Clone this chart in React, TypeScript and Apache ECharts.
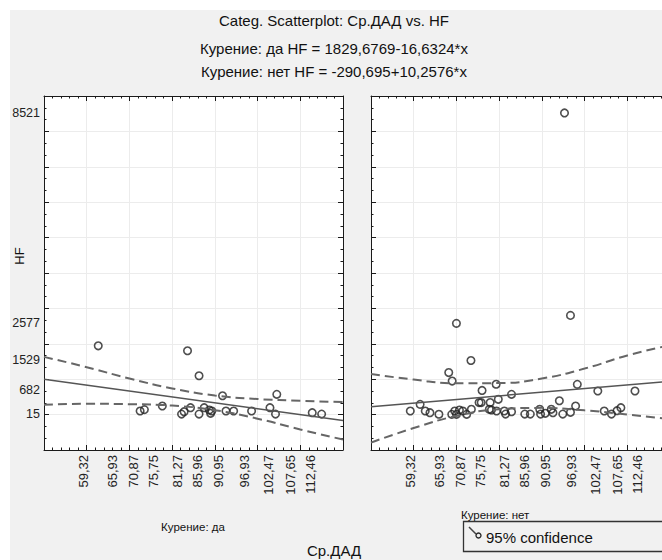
import React, { useEffect, useRef } from "react";
import * as echarts from "echarts";

// Tick labels shown by the original chart (custom values)
const xTickLabels = [59.32, 65.93, 70.87, 75.75, 81.27, 85.96, 90.95, 96.93, 102.47, 107.65, 112.46];
const yTickLabels = [15, 682, 1529, 2577, 8521];

// Курение: да
const smokeYesX = [62.7, 83.6, 86.3, 91.8, 104.5, 77.7, 72.5, 73.5, 82.2, 82.8, 84.3, 86.3, 87.5, 88.7, 89.0, 89.3, 92.6, 94.4, 98.6, 102.9, 104.2, 112.8, 115.0];
const smokeYesY = [1944, 1803, 1098, 533, 573, 243, 102, 141, 15, 82, 195, 15, 195, 130, 37, 102, 102, 102, 102, 195, 15, 54, 15];

// Курение: нет
const smokeNoX = [59.2, 61.5, 62.7, 63.8, 65.9, 68.2, 69.0, 68.9, 69.6, 70.0, 70.0, 70.7, 71.5, 72.4, 73.5, 73.4, 75.3, 75.8, 76.0, 77.7, 77.9, 78.2, 79.3, 79.4, 79.8, 81.2, 81.5, 82.9, 82.9, 86.0, 87.3, 89.5, 89.7, 90.8, 92.2, 92.6, 94.1, 94.9, 95.3, 96.7, 96.7, 97.9, 98.3, 103.1, 104.6, 106.3, 107.6, 108.5, 111.8];
const smokeNoY = [102, 290, 102, 54, 10, 1188, 948, 8, 102, 2577, 8, 130, 102, 8, 150, 1529, 341, 341, 682, 150, 341, 130, 858, 102, 432, 102, 15, 573, 82, 15, 15, 150, 15, 37, 150, 54, 392, 15, 8521, 65, 2802, 243, 855, 666, 102, 15, 110, 195, 666];

// Fitted lines (from the chart's title)
const fitYes = { a: 1829.6769, b: -16.6324 };
const fitNo = { a: -290.695, b: 10.2576 };

// 95% confidence bands
const bandX = [50, 60, 70, 80, 90, 100, 110, 120];
const yesUpper = [1630, 1340, 1020, 740, 540, 440, 390, 355];
const yesLower = [275, 305, 295, 255, 125, -115, -420, -705];
const noUpper = [1150, 990, 885, 890, 1020, 1300, 1670, 1960];
const noLower = [-790, -380, -40, 150, 190, 120, 0, -130];

const X_MIN = 50;
const X_MAX = 120;
const Y_MIN = -1000;
const Y_MAX = 9000;

const FONT = "'Liberation Sans', Arial, sans-serif";
const INK = "#1a1a1a";

function pairs(xs: number[], ys: number[]) {
  return xs.map((x, i) => [x, ys[i]]);
}

function fitLine(f: { a: number; b: number }) {
  return [
    [X_MIN, f.a + f.b * X_MIN],
    [X_MAX, f.a + f.b * X_MAX],
  ];
}

export default function App() {
  const ref = useRef<HTMLDivElement>(null);

  useEffect(() => {
    document.body.style.margin = "0";
    if (!ref.current) return;
    const chart = echarts.init(ref.current, undefined, { renderer: "svg" });

    const tickCommon = {
      axisLine: { show: true, onZero: false, lineStyle: { color: INK, width: 1 } },
      axisTick: { show: true, inside: true, length: 5, lineStyle: { color: INK, width: 1 } },
    };

    const xAxes: any[] = [];
    const yAxes: any[] = [];
    [0, 1].forEach((g) => {
      xAxes.push({
        type: "value",
        gridIndex: g,
        position: "bottom",
        min: X_MIN,
        max: X_MAX,
        interval: 10,
        ...tickCommon,
        minorTick: { show: true, splitNumber: 5, length: 2.5, lineStyle: { color: INK, width: 1 } },
        splitLine: { show: true, lineStyle: { color: "#ececec", width: 1 } },
        axisLabel: {
          show: true,
          customValues: xTickLabels,
          rotate: 90,
          margin: 5,
          fontSize: 13,
          fontFamily: FONT,
          color: "#222",
          formatter: (v: number) => v.toFixed(2).replace(".", ","),
        },
      });
      xAxes.push({
        type: "value",
        gridIndex: g,
        position: "top",
        min: X_MIN,
        max: X_MAX,
        interval: 10,
        ...tickCommon,
        minorTick: { show: true, splitNumber: 5, length: 2.5, lineStyle: { color: INK, width: 1 } },
        splitLine: { show: false },
        axisLabel: { show: false },
      });
      yAxes.push({
        type: "value",
        gridIndex: g,
        position: "left",
        min: Y_MIN,
        max: Y_MAX,
        interval: 1000,
        ...tickCommon,
        minorTick: { show: true, splitNumber: 3, length: 2.5, lineStyle: { color: INK, width: 1 } },
        splitLine: { show: true, lineStyle: { color: "#ececec", width: 1 } },
        axisLabel: {
          show: g === 0,
          customValues: yTickLabels,
          margin: 4,
          fontSize: 12.5,
          fontFamily: FONT,
          color: "#222",
          formatter: (v: number) => String(v),
        },
      });
      yAxes.push({
        type: "value",
        gridIndex: g,
        position: "right",
        min: Y_MIN,
        max: Y_MAX,
        interval: 1000,
        ...tickCommon,
        minorTick: { show: true, splitNumber: 3, length: 2.5, lineStyle: { color: INK, width: 1 } },
        splitLine: { show: false },
        axisLabel: { show: false },
      });
    });

    const panels = [
      { x: smokeYesX, y: smokeYesY, fit: fitYes, up: yesUpper, lo: yesLower },
      { x: smokeNoX, y: smokeNoY, fit: fitNo, up: noUpper, lo: noLower },
    ];

    const series: any[] = [];
    panels.forEach((p, g) => {
      const axisIdx = { xAxisIndex: g * 2, yAxisIndex: g * 2 };
      series.push({
        type: "line",
        ...axisIdx,
        data: pairs(bandX, p.up),
        smooth: true,
        symbol: "none",
        clip: true,
        lineStyle: { color: "#666", width: 2, type: [9, 5] },
      });
      series.push({
        type: "line",
        ...axisIdx,
        data: pairs(bandX, p.lo),
        smooth: true,
        symbol: "none",
        clip: true,
        lineStyle: { color: "#666", width: 2, type: [9, 5] },
      });
      series.push({
        type: "line",
        ...axisIdx,
        data: fitLine(p.fit),
        symbol: "none",
        clip: true,
        lineStyle: { color: "#555", width: 1.5 },
      });
      series.push({
        type: "scatter",
        ...axisIdx,
        data: pairs(p.x, p.y),
        symbol: "circle",
        symbolSize: 7.5,
        itemStyle: { color: "rgba(255,255,255,0)", borderColor: "#222", borderWidth: 1.6 },
      });
    });

    const txt = (x: number, y: number, text: string, size: number, align = "center", extra: any = {}) => ({
      type: "text",
      x,
      y,
      style: {
        text,
        fontSize: size,
        fontFamily: FONT,
        fill: "#111",
        align,
        verticalAlign: "middle",
      },
      ...extra,
    });

    chart.setOption({
      animation: false,
      backgroundColor: "transparent",
      grid: [
        { left: 44, top: 96, width: 299, height: 354, show: true, backgroundColor: "#fff", borderWidth: 0, outerBoundsMode: "none" },
        { left: 371, top: 96, width: 299, height: 354, show: true, backgroundColor: "#fff", borderWidth: 0, outerBoundsMode: "none" },
      ],
      xAxis: xAxes,
      yAxis: yAxes,
      series,
      graphic: [
        txt(334, 20, "Categ. Scatterplot: Ср.ДАД vs. HF", 15),
        txt(334, 48, "Курение: да HF = 1829,6769-16,6324*x", 15),
        txt(334, 71, "Курение: нет HF = -290,695+10,2576*x", 15),
        txt(19, 256, "HF", 13, "center", { rotation: Math.PI / 2 }),
        txt(193, 527, "Курение: да", 11.5),
        txt(461, 515, "Курение: нет", 11.5, "left"),
        txt(334, 550, "Ср.ДАД", 15),
        {
          type: "rect",
          shape: { x: 463.5, y: 521.5, width: 210, height: 30 },
          style: { fill: "none", stroke: "#333", lineWidth: 1.3 },
        },
        {
          type: "line",
          shape: { x1: 469, y1: 527, x2: 476, y2: 534 },
          style: { stroke: "#444", lineWidth: 1.5 },
        },
        {
          type: "circle",
          shape: { cx: 478.5, cy: 535.5, r: 2.5 },
          style: { fill: "none", stroke: "#222", lineWidth: 1.3 },
        },
        txt(486, 537, "95% confidence", 15, "left"),
      ],
    });

    return () => chart.dispose();
  }, []);

  return (
    <div style={{ position: "relative", width: 662, height: 560, background: "#fff", overflow: "hidden" }}>
      <div style={{ position: "absolute", left: 10, top: 10, right: 0, bottom: 0, background: "#f1f1f1" }} />
      <div ref={ref} style={{ position: "absolute", left: 0, top: 0, width: 662, height: 560 }} />
    </div>
  );
}
